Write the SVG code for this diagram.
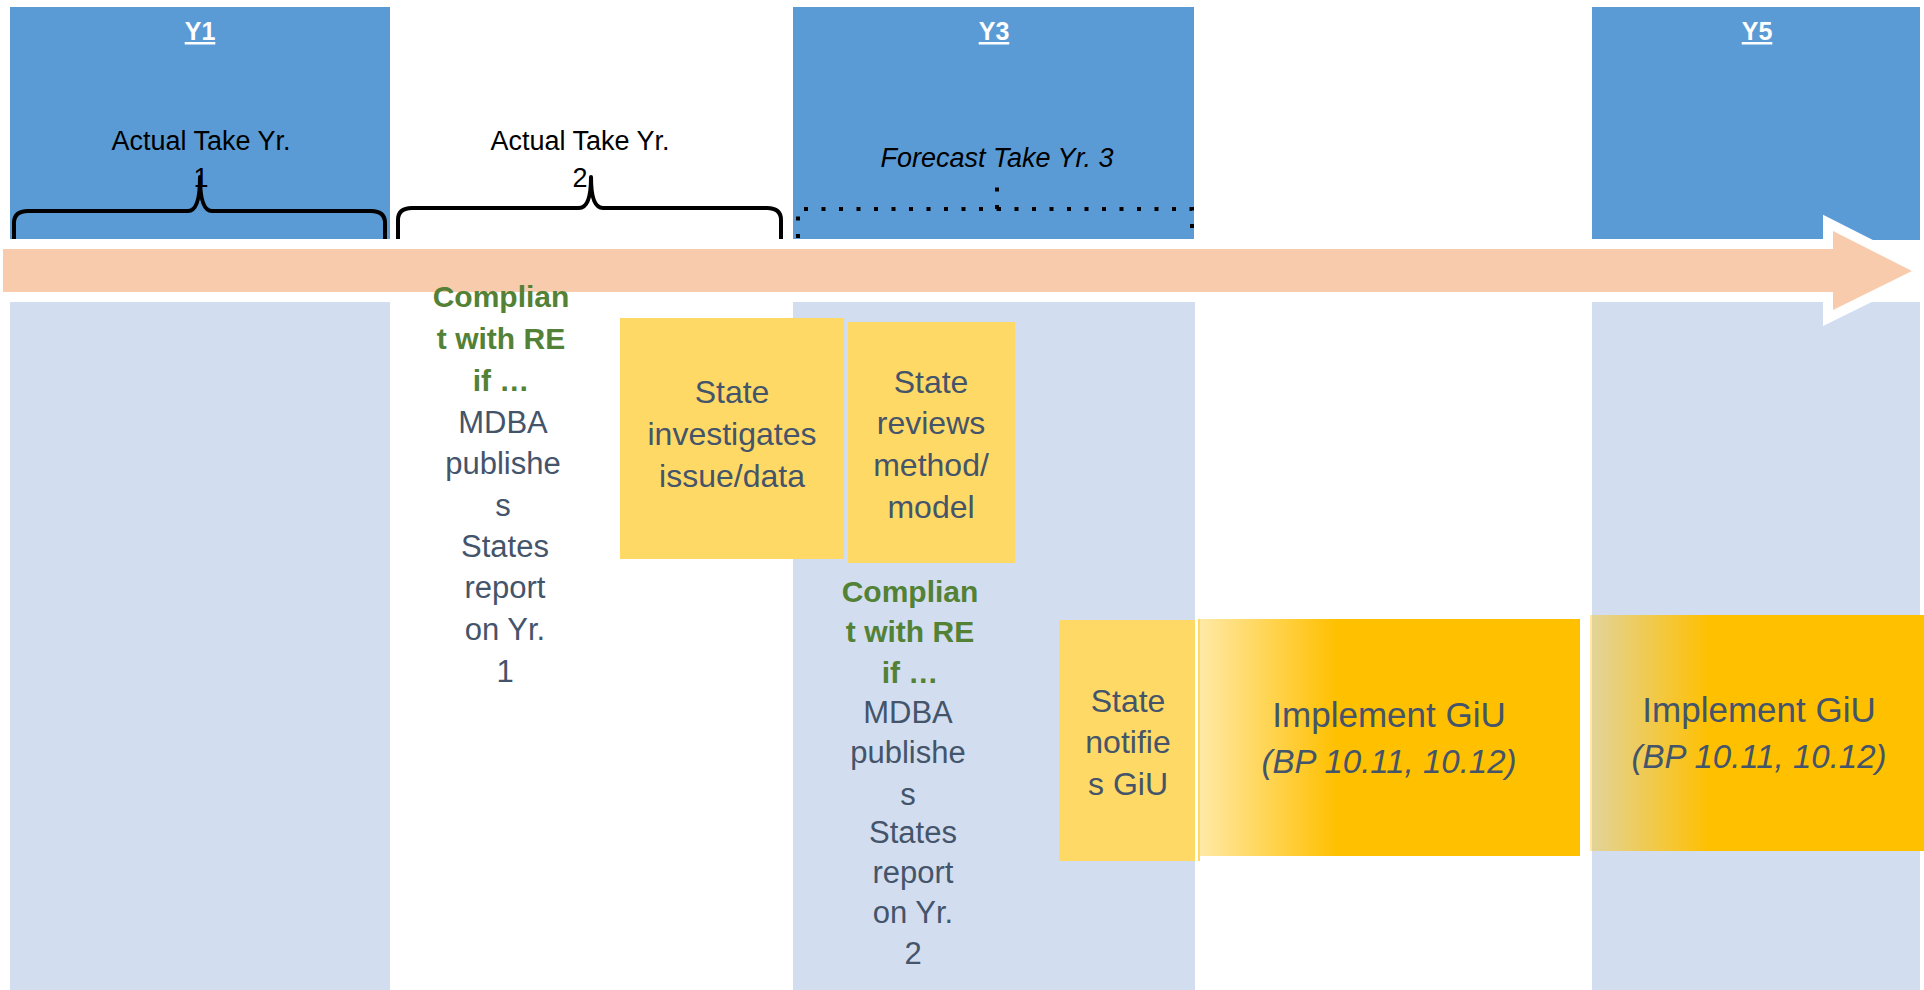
<svg xmlns="http://www.w3.org/2000/svg" width="1924" height="990" viewBox="0 0 1924 990">
<defs>
<style>
.top{fill:#5B9BD5}
.low{fill:#D2DEEF}
.ylab{font-family:"Liberation Sans",Arial,sans-serif;font-size:25px;font-weight:bold;fill:#fff;text-anchor:middle;text-decoration:underline}
.take{font-family:"Liberation Sans",Arial,sans-serif;font-size:27px;fill:#000;text-anchor:middle}
.fc{font-family:"Liberation Sans",Arial,sans-serif;font-size:27px;font-style:italic;fill:#000;text-anchor:middle}
.brace{fill:none;stroke:#000;stroke-width:4;stroke-linejoin:round}
.dotb{fill:none;stroke:#000;stroke-width:4;stroke-dasharray:4 13.5}
.grn{font-family:"Liberation Sans",Arial,sans-serif;font-size:30px;font-weight:bold;fill:#538135;text-anchor:middle}
.sl{font-family:"Liberation Sans",Arial,sans-serif;font-size:31px;fill:#44546A;text-anchor:middle}
.bx{font-family:"Liberation Sans",Arial,sans-serif;font-size:32px;fill:#44546A;text-anchor:middle}
.imp{font-family:"Liberation Sans",Arial,sans-serif;font-size:35px;fill:#44546A;text-anchor:middle}
.impi{font-family:"Liberation Sans",Arial,sans-serif;font-size:33px;font-style:italic;fill:#44546A;text-anchor:middle}
.ybox{fill:#FFD966}
</style>
<linearGradient id="g1" x1="0" y1="0" x2="1" y2="0">
<stop offset="0" stop-color="#FFC000" stop-opacity="0.35"/>
<stop offset="0.36" stop-color="#FFC000" stop-opacity="1"/>
<stop offset="1" stop-color="#FFC000" stop-opacity="1"/>
</linearGradient>
</defs>
<rect width="1924" height="990" fill="#fff"/>

<g id="col-y1">
<rect class="top" x="10" y="7" width="380" height="233"/>
<rect class="low" x="10" y="302" width="380" height="688"/>
<text class="ylab" x="200" y="40">Y1</text>
<text class="take" x="201" y="150">Actual Take Yr.</text>
<text class="take" x="201" y="187">1</text>
<path class="brace" d="M14,243 L14,223 Q14,211 28,211 L188,211 Q200,211 200,177 Q200,211 212,211 L371,211 Q385,211 385,223 L385,243"/>
</g>

<g id="col-y2">
<text class="take" x="580" y="150">Actual Take Yr.</text>
<text class="take" x="580" y="187">2</text>
<path class="brace" d="M398,240 L398,220 Q398,208 412,208 L579,208 Q591,208 591,177 Q591,208 603,208 L767,208 Q781,208 781,220 L781,240"/>
</g>

<g id="col-y3">
<rect class="top" x="793" y="7" width="401" height="233"/>
<rect class="low" x="793" y="302" width="402" height="688"/>
<text class="ylab" x="994" y="40">Y3</text>
<text class="fc" x="997" y="167">Forecast Take Yr. 3</text>
<path class="dotb" d="M798,238 L798,209 L997,209 M997,209 L997,180 M997,209 L1192,209 L1192,238"/>
</g>

<g id="col-y5">
<rect class="top" x="1592" y="7" width="328" height="233"/>
<rect class="low" x="1592" y="302" width="328" height="688"/>
<text class="ylab" x="1757" y="40">Y5</text>
</g>

<g id="timeline">
<path d="M3,249 L1833,249 L1833,231 L1912,271 L1833,310 L1833,292 L3,292 Z" fill="#F8CBAD" stroke="#fff" stroke-width="20" stroke-linejoin="miter" paint-order="stroke"/>
</g>

<g id="compliance-y1">
<text class="grn" x="501" y="307">Complian</text>
<text class="grn" x="501" y="349">t with RE</text>
<text class="grn" x="501" y="391">if …</text>
<text class="sl" x="503" y="433">MDBA</text>
<text class="sl" x="503" y="474">publishe</text>
<text class="sl" x="503" y="516">s</text>
<text class="sl" x="505" y="557">States</text>
<text class="sl" x="505" y="598">report</text>
<text class="sl" x="505" y="640">on Yr.</text>
<text class="sl" x="505" y="682">1</text>
</g>

<g id="state-investigates">
<rect class="ybox" x="620" y="318" width="224" height="241"/>
<text class="bx" x="732" y="403">State</text>
<text class="bx" x="732" y="445">investigates</text>
<text class="bx" x="732" y="487">issue/data</text>
</g>

<g id="state-reviews">
<rect class="ybox" x="848" y="322" width="167" height="241"/>
<text class="bx" x="931" y="393">State</text>
<text class="bx" x="931" y="434">reviews</text>
<text class="bx" x="931" y="476">method/</text>
<text class="bx" x="931" y="518">model</text>
</g>

<g id="compliance-y3">
<text class="grn" x="910" y="602">Complian</text>
<text class="grn" x="910" y="642">t with RE</text>
<text class="grn" x="910" y="683">if …</text>
<text class="sl" x="908" y="723">MDBA</text>
<text class="sl" x="908" y="763">publishe</text>
<text class="sl" x="908" y="805">s</text>
<text class="sl" x="913" y="843">States</text>
<text class="sl" x="913" y="883">report</text>
<text class="sl" x="913" y="923">on Yr.</text>
<text class="sl" x="913" y="964">2</text>
</g>

<g id="state-notifies">
<rect class="ybox" x="1059" y="620" width="136" height="241"/>
<text class="bx" x="1128" y="712">State</text>
<text class="bx" x="1128" y="753">notifie</text>
<text class="bx" x="1128" y="795">s GiU</text>
</g>

<g id="implement-1">
<rect x="1195" y="619" width="3" height="242" fill="#fff"/>
<rect x="1198" y="619" width="2" height="242" fill="#FFD966"/>
<rect x="1200" y="619" width="380" height="237" fill="url(#g1)"/>
<text class="imp" x="1389" y="727">Implement GiU</text>
<text class="impi" x="1389" y="773">(BP 10.11, 10.12)</text>
</g>

<g id="implement-2">
<rect x="1590" y="615" width="334" height="236" fill="url(#g1)"/>
<text class="imp" x="1759" y="722">Implement GiU</text>
<text class="impi" x="1759" y="768">(BP 10.11, 10.12)</text>
</g>
</svg>
